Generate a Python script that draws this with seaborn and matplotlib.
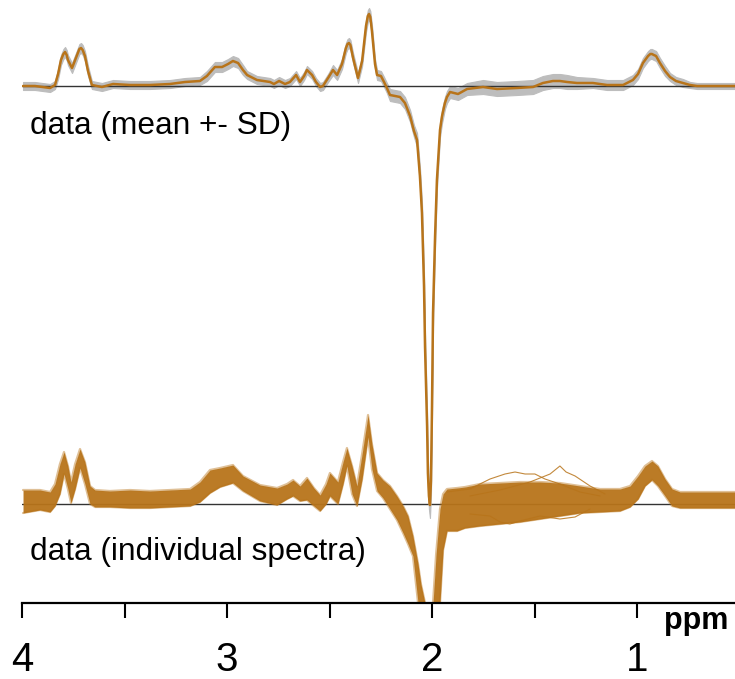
import numpy as np
import pandas as pd
import matplotlib
matplotlib.use("Agg")
import matplotlib.pyplot as plt
import seaborn as sns

# ---------------- data (arbitrary intensity units) -------------
mean_ppm = [3.995, 3.937, 3.863, 3.839, 3.824, 3.810, 3.798, 3.790, 3.782, 3.776, 3.756, 3.737,
            3.720, 3.712, 3.704, 3.693, 3.678, 3.659, 3.610, 3.556, 3.473, 3.376, 3.278, 3.205,
            3.132, 3.098, 3.059, 3.024, 2.995, 2.971, 2.946, 2.922, 2.902, 2.854,
            2.790, 2.771, 2.746, 2.717, 2.693, 2.663, 2.644, 2.624, 2.610, 2.585,
            2.566, 2.546, 2.532, 2.507, 2.483, 2.463, 2.439, 2.420, 2.412, 2.405, 2.398, 2.385,
            2.361, 2.341, 2.322, 2.313, 2.307, 2.301, 2.293, 2.278, 2.268, 2.249, 2.234, 2.220,
            2.205, 2.180, 2.156, 2.132, 2.107, 2.088, 2.073, 2.059, 2.049, 2.039,
            2.034, 2.024, 2.020, 2.015, 2.010, 2.005, 2.000, 1.995, 1.985, 1.976,
            1.961, 1.951, 1.937, 1.927, 1.912, 1.873, 1.829, 1.751, 1.683, 1.585,
            1.507, 1.459, 1.410, 1.376, 1.341, 1.293, 1.215, 1.146, 1.068, 1.020,
            0.995, 0.971, 0.946, 0.935, 0.927, 0.918, 0.907, 0.888, 0.863, 0.839, 0.810, 0.776,
            0.741, 0.707, 0.522]
mean_val = [0, 0, -2, 1, 12, 26, 32, 34, 31, 26, 18, 28,
            37, 38, 36, 30, 15, 1, -1, 2, 1, 1, 2, 4,
            5, 10, 19, 19, 22, 25, 23, 16, 11, 6,
            4, 2, 5, 2, 4, 11, 4, 10, 16, 11,
            4, -1, 0, 8, 16, 11, 22, 38, 42, 43, 41, 28,
            8, 25, 60, 70, 72, 69, 55, 22, 11, 10, 4, -2,
            -9, -10, -11, -17, -30, -45, -54, -90, -127, -200,
            -261, -340, -387, -410, -419, -395, -320, -227, -150, -94,
            -44, -30, -17, -11, -6, -8, -3, -1, -3, -2,
            -1, 3, 5, 5, 4, 3, 3, 1, 1, 6,
            12, 23, 30, 32, 32, 31, 30, 23, 15, 9, 5, 3,
            1, 0, 0]
mean_sd = [4, 4, 4, 4, 5, 5, 5, 5, 5, 5, 5, 5,
           5, 5, 5, 5, 5, 4, 4, 4, 4, 4, 4, 4,
           4, 5, 5, 5, 5, 5, 5, 5, 4, 4,
           4, 4, 4, 4, 4, 4, 4, 4, 4, 4,
           4, 4, 4, 4, 5, 5, 5, 5, 5, 5, 5, 5,
           5, 5, 6, 6, 6, 6, 6, 5, 5, 5, 5, 5,
           6, 6, 6, 6, 6, 6, 7, 9, 11, 13,
           13, 13, 13, 13, 13, 13, 13, 13, 11, 9,
           7, 7, 6, 6, 6, 6, 6, 7, 7, 7,
           7, 7, 7, 7, 7, 6, 5, 5, 5, 5,
           5, 5, 5, 5, 5, 5, 5, 5, 5, 4, 4, 4,
           3, 3, 3]

ind_ppm = [3.995, 3.912, 3.863, 3.839, 3.815, 3.795, 3.776, 3.761, 3.741, 3.717,
           3.693, 3.668, 3.644, 3.571, 3.473, 3.376, 3.278, 3.180, 3.132, 3.083,
           3.034, 2.971, 2.922, 2.839, 2.756, 2.707, 2.678, 2.644, 2.610, 2.576,
           2.546, 2.517, 2.498, 2.459, 2.434, 2.415, 2.390, 2.366, 2.341, 2.312,
           2.293, 2.268, 2.239, 2.205, 2.171, 2.141, 2.117, 2.093, 2.068, 2.054,
           2.034, 2.020, 2.010, 2.000, 1.995, 1.980, 1.961, 1.946, 1.927, 1.878,
           1.839, 1.766, 1.668, 1.571, 1.473, 1.376, 1.278, 1.180, 1.083, 1.034,
           0.995, 0.961, 0.927, 0.898, 0.863, 0.829, 0.790, 0.693, 0.522]
ind_upper = [14, 14, 12, 20, 40, 52, 38, 22, 40, 55,
             42, 18, 14, 13, 14, 13, 14, 15, 22, 34,
             36, 39, 28, 19, 16, 20, 24, 18, 26, 16,
             9, 20, 31, 22, 42, 56, 38, 18, 50, 89,
             60, 31, 24, 18, 8, -2, -12, -32, -60, -80,
             -99, -250, -300, -250, -99, -50, -5, 10, 15, 16,
             17, 20, 21, 22, 22, 21, 18, 15, 15, 18,
             28, 38, 43, 38, 25, 15, 12, 12, 12]
ind_lower = [-9, -6, -8, -2, 10, 30, 15, 1, 15, 36,
             20, 0, -3, -3, -4, -4, -3, -2, 2, 11,
             17, 21, 13, 3, -1, 5, 8, 3, 4, -2,
             -7, 0, 8, 0, 20, 38, 10, -2, 25, 67,
             35, 13, 6, -5, -16, -29, -40, -52, -99, -150,
             -250, -400, -420, -400, -300, -150, -99, -46, -27, -27,
             -24, -22, -20, -18, -15, -12, -9, -8, -7, -3,
             5, 18, 24, 18, 8, -2, -4, -4, -4]

outlier_a_ppm = [1.927, 1.815, 1.717, 1.644, 1.595, 1.546, 1.498, 1.449, 1.376, 1.278, 1.180]
outlier_a_val = [12, 15, 25, 30, 32, 30, 30, 25, 20, 12, 8]
outlier_b_ppm = [1.815, 1.668, 1.522, 1.424, 1.376, 1.346, 1.302, 1.229, 1.156]
outlier_b_val = [8, 14, 22, 30, 38, 32, 28, 18, 10]
outlier_c_ppm = [1.815, 1.717, 1.668, 1.620, 1.571, 1.473, 1.376, 1.302, 1.229]
outlier_c_val = [-10, -12, -18, -20, -17, -12, -15, -13, -5]

major_ticks = [4, 3, 2, 1]
minor_ticks = [3.5, 2.5, 1.5]
label_mean = "data (mean +- SD)"
label_ind = "data (individual spectra)"
axis_label = "ppm"

# ---------------- styling ----------------
sns.set_theme(style="white")
plt.rcParams['font.family'] = ['Liberation Sans', 'DejaVu Sans']

ORANGE = "#B8741A"
GREY = "#BDBDBD"
W, H = 735, 679
DPI = 100
MEAN_OFFSET = 418

fig = plt.figure(figsize=(W / DPI, H / DPI), dpi=DPI)
ax = fig.add_axes([22 / W, (H - 603) / H, (W - 22) / W, 603 / H])

mean_df = pd.DataFrame({"ppm": mean_ppm,
                        "val": np.array(mean_val) + MEAN_OFFSET,
                        "sd": mean_sd})
ind_df = pd.DataFrame({"ppm": ind_ppm, "up": ind_upper, "lo": ind_lower})

# upper: mean +- SD
ax.fill_between(mean_df["ppm"], mean_df["val"] - mean_df["sd"],
                mean_df["val"] + mean_df["sd"], color=GREY, lw=0.8,
                edgecolor=GREY, zorder=2)
ax.axhline(MEAN_OFFSET, color="#333333", lw=1.0, zorder=3)
sns.lineplot(data=mean_df, x="ppm", y="val", color=ORANGE, lw=1.8,
             ax=ax, zorder=4, sort=False)

# lower: individual spectra (envelope of traces)
ax.axhline(0, color="#333333", lw=1.0, zorder=1)
ax.fill_between(ind_df["ppm"], ind_df["lo"], ind_df["up"], color=ORANGE,
                lw=0, alpha=0.95, zorder=2)
for col in ["up", "lo"]:
    sns.lineplot(data=ind_df, x="ppm", y=col, color=ORANGE, lw=1.6, alpha=0.45,
                 ax=ax, zorder=2, sort=False)
for xs, ys in [(outlier_a_ppm, outlier_a_val), (outlier_b_ppm, outlier_b_val),
               (outlier_c_ppm, outlier_c_val)]:
    sns.lineplot(x=xs, y=ys, color=ORANGE, lw=0.8, alpha=0.85, ax=ax, zorder=2, sort=False)

ax.set_xlim(4, 4 - (W - 22) / 205)
ax.set_ylim(-99, 504)
ax.set_xlabel("")
ax.set_ylabel("")
ax.set_yticks([])
for s in ["top", "left", "right"]:
    ax.spines[s].set_visible(False)
ax.spines["bottom"].set_linewidth(1.6)
ax.spines["bottom"].set_color("black")
ax.set_xticks(major_ticks)
ax.set_xticklabels([str(t) for t in major_ticks])
ax.set_xticks(minor_ticks, minor=True)
ax.tick_params(axis="x", which="both", direction="out", length=10.5, width=1.5,
               color="black", bottom=True)
ax.tick_params(axis="x", which="major", labelsize=29, pad=17, labelcolor="black")
ax.set_facecolor("white")

fig.text(30 / W, 1 - 126 / H, label_mean, fontsize=22.8, va="center", ha="left", color="black")
fig.text(30 / W, 1 - 552 / H, label_ind, fontsize=22.8, va="center", ha="left", color="black")
fig.text(728 / W, 1 - 629 / H, axis_label, fontsize=22, fontweight="bold",
         va="baseline", ha="right", color="black")

fig.savefig("out.png", dpi=DPI, facecolor="white")
